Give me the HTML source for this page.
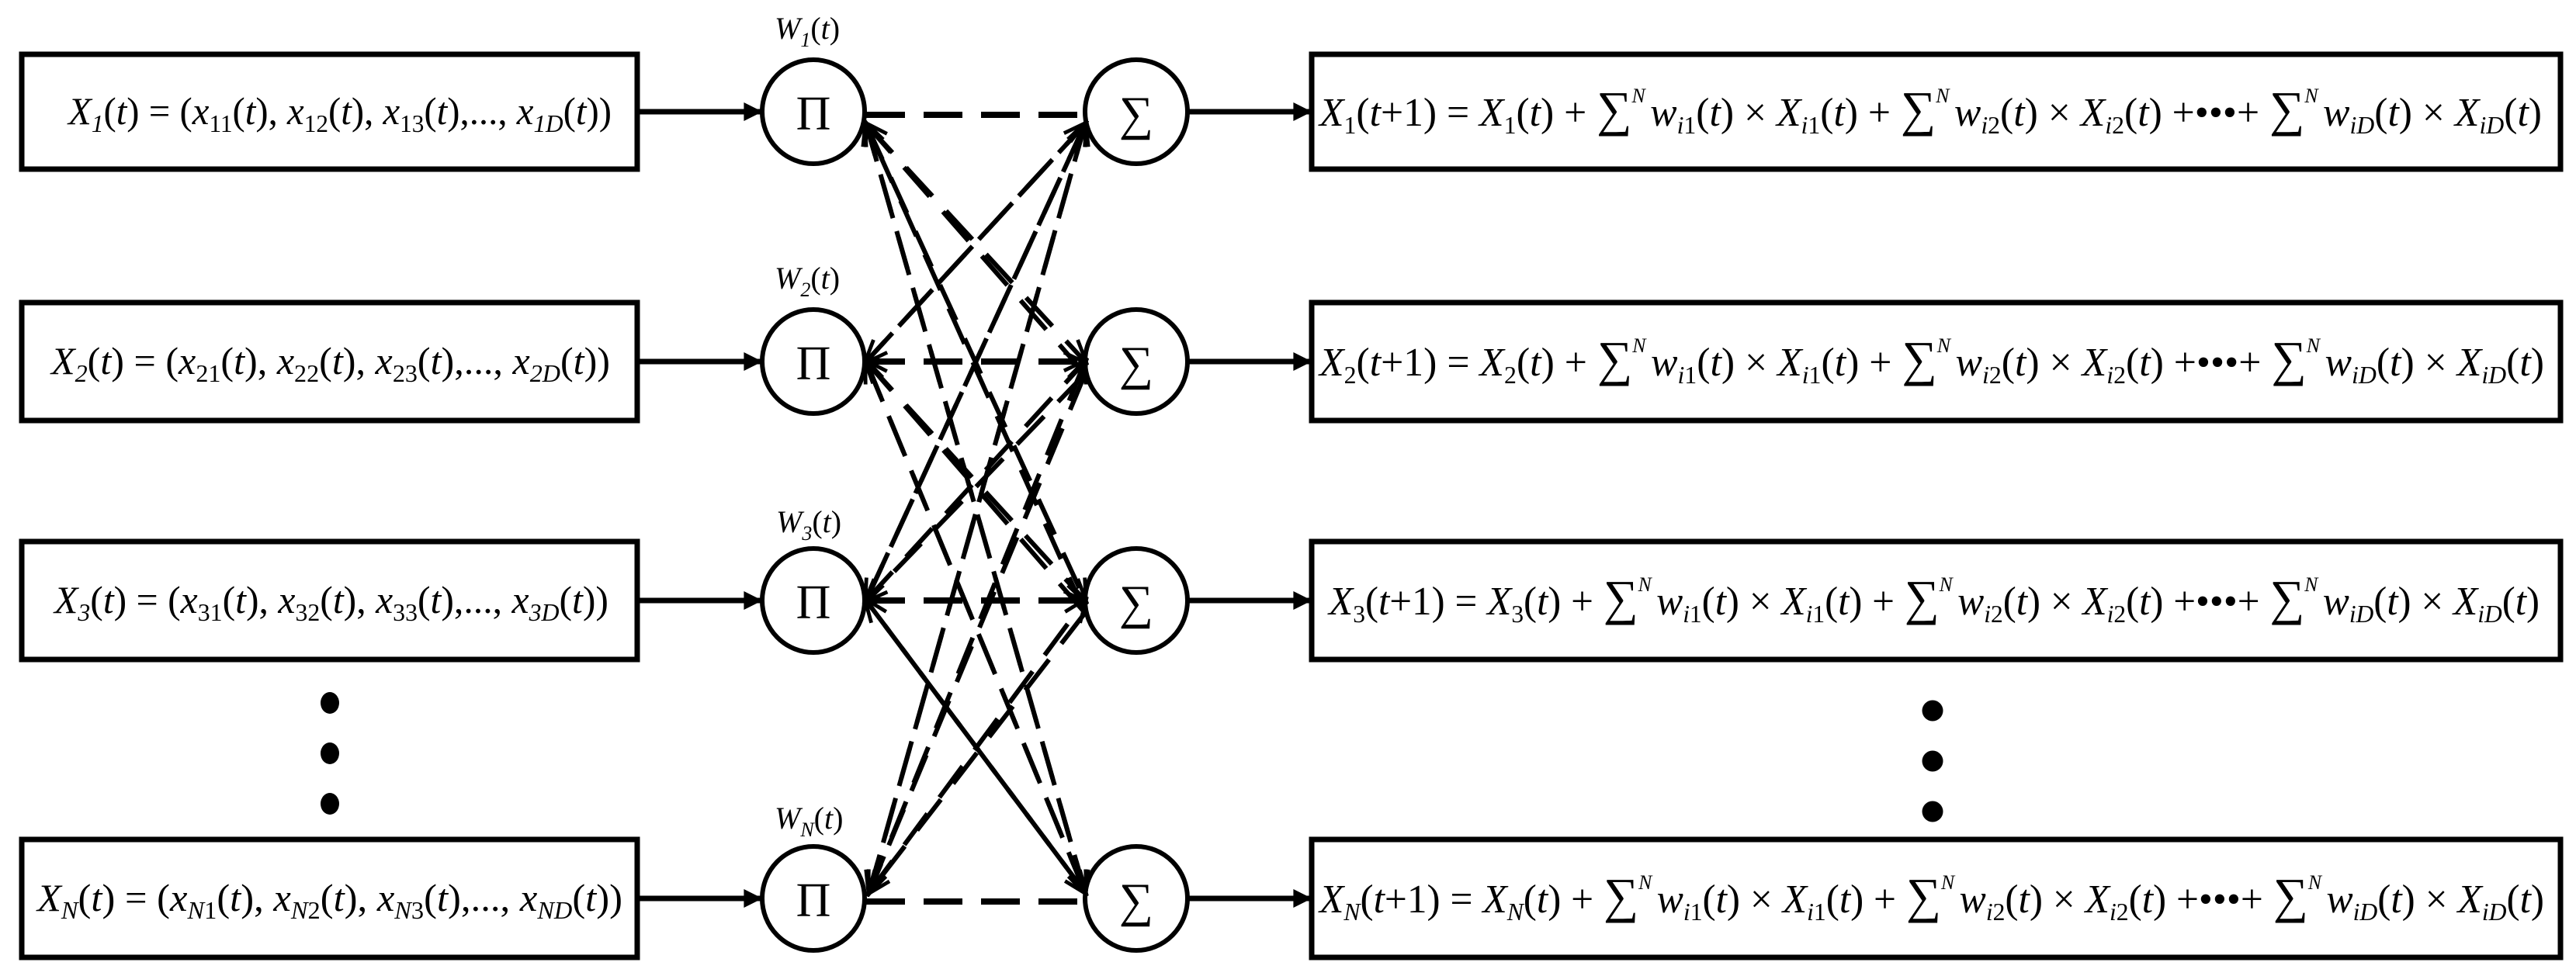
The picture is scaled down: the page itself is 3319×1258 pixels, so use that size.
<!DOCTYPE html>
<html><head><meta charset="utf-8"><style>
html,body{margin:0;padding:0;background:#fff;}
svg{display:block;}
text{font-family:"Liberation Serif",serif;fill:#000;}
.it{font-style:italic;}
</style></head><body>
<svg width="3319" height="1258" viewBox="0 0 3319 1258" xmlns="http://www.w3.org/2000/svg">
<defs>
<marker id="ah" viewBox="0 0 10 10" refX="9" refY="5" markerWidth="6" markerHeight="6" orient="auto" markerUnits="userSpaceOnUse">
<path d="M0,0 L10,5 L0,10 z" fill="#000"/>
</marker>
<marker id="ah2" viewBox="0 0 10 10" refX="9" refY="5" markerWidth="28" markerHeight="24" orient="auto" markerUnits="userSpaceOnUse">
<path d="M0,0 L10,5 L0,10 z" fill="#000"/>
</marker>
<marker id="ad" viewBox="0 0 10 10" refX="9" refY="5" markerWidth="36" markerHeight="30" orient="auto" markerUnits="userSpaceOnUse">
<path d="M0,1 L10,5 L0,9" fill="none" stroke="#000" stroke-width="1.6"/>
</marker>
</defs>
<g fill="none" stroke="#000" stroke-width="7">
<rect x="28" y="70" width="793" height="148"/>
<rect x="28" y="390" width="793" height="152"/>
<rect x="28" y="698" width="793" height="152"/>
<rect x="28" y="1082" width="793" height="152"/>
<rect x="1690" y="70" width="1609" height="148"/>
<rect x="1690" y="390" width="1609" height="152"/>
<rect x="1690" y="698" width="1609" height="152"/>
<rect x="1690" y="1082" width="1609" height="152"/>
</g>
<g fill="none" stroke="#000" stroke-width="6">
<ellipse cx="1048" cy="144" rx="66" ry="67"/>
<ellipse cx="1048" cy="466" rx="66" ry="67"/>
<ellipse cx="1048" cy="774" rx="66" ry="67"/>
<ellipse cx="1048" cy="1158" rx="66" ry="67"/>
<ellipse cx="1464" cy="144" rx="66" ry="67"/>
<ellipse cx="1464" cy="466" rx="66" ry="67"/>
<ellipse cx="1464" cy="774" rx="66" ry="67"/>
<ellipse cx="1464" cy="1158" rx="66" ry="67"/>
</g>
<!-- solid arrows -->
<g stroke="#000" stroke-width="7" marker-end="url(#ah2)">
<line x1="824" y1="144" x2="980" y2="144"/>
<line x1="824" y1="466" x2="980" y2="466"/>
<line x1="824" y1="774" x2="980" y2="774"/>
<line x1="824" y1="1158" x2="980" y2="1158"/>
<line x1="1531" y1="144" x2="1688" y2="144"/>
<line x1="1531" y1="466" x2="1688" y2="466"/>
<line x1="1531" y1="774" x2="1688" y2="774"/>
<line x1="1531" y1="1158" x2="1688" y2="1158"/>
</g>
<!-- dashed connections -->
<g stroke="#000" stroke-width="8" stroke-dasharray="50,24" fill="none">
<line x1="1116" y1="148" x2="1398" y2="148"/>
<line x1="1116" y1="466" x2="1398" y2="466"/>
<line x1="1116" y1="774" x2="1398" y2="774"/>
<line x1="1116" y1="1162" x2="1398" y2="1162"/>
</g>
<g stroke="#000" stroke-width="6" stroke-dasharray="50,26" fill="none">
<line x1="1398" y1="160" x2="1116" y2="466" marker-end="url(#ad)"/>
<line x1="1398" y1="160" x2="1116" y2="774" marker-end="url(#ad)"/>
<line x1="1398" y1="160" x2="1120" y2="1150" marker-end="url(#ad)"/>
<line x1="1398" y1="482" x2="1116" y2="160" marker-end="url(#ad)"/>
<line x1="1398" y1="482" x2="1116" y2="774" marker-end="url(#ad)"/>
<line x1="1398" y1="482" x2="1120" y2="1150" marker-end="url(#ad)"/>
<line x1="1398" y1="790" x2="1116" y2="160" marker-end="url(#ad)"/>
<line x1="1398" y1="790" x2="1116" y2="466" marker-end="url(#ad)"/>
<line x1="1398" y1="790" x2="1120" y2="1150" marker-end="url(#ad)"/>
<line x1="1398" y1="1150" x2="1116" y2="160" marker-end="url(#ad)"/>
<line x1="1398" y1="1150" x2="1116" y2="466" marker-end="url(#ad)"/>
<line x1="1398" y1="1150" x2="1116" y2="774" marker-end="url(#ad)"/>
<line x1="1116" y1="160" x2="1398" y2="466" marker-end="url(#ad)"/>
<line x1="1116" y1="160" x2="1398" y2="774" marker-end="url(#ad)"/>
<line x1="1116" y1="160" x2="1398" y2="1150" marker-end="url(#ad)"/>
<line x1="1116" y1="466" x2="1398" y2="160" marker-end="url(#ad)"/>
<line x1="1116" y1="466" x2="1398" y2="774" marker-end="url(#ad)"/>
<line x1="1116" y1="466" x2="1398" y2="1150" marker-end="url(#ad)"/>
<line x1="1116" y1="774" x2="1398" y2="160" marker-end="url(#ad)"/>
<line x1="1116" y1="774" x2="1398" y2="466" marker-end="url(#ad)"/>
<line x1="1116" y1="774" x2="1398" y2="1150" marker-end="url(#ad)"/>
<line x1="1120" y1="1150" x2="1398" y2="160" marker-end="url(#ad)"/>
<line x1="1120" y1="1150" x2="1398" y2="466" marker-end="url(#ad)"/>
<line x1="1120" y1="1150" x2="1398" y2="774" marker-end="url(#ad)"/>
</g>
<!-- node symbols -->
<g font-size="62" text-anchor="middle">
<text x="1048" y="167">Π</text><text x="1048" y="489">Π</text><text x="1048" y="797">Π</text><text x="1048" y="1181">Π</text>
<text x="1464" y="167">∑</text><text x="1464" y="489">∑</text><text x="1464" y="797">∑</text><text x="1464" y="1181">∑</text>
</g>
<!-- W labels -->
<g font-size="40" class="it">
<text x="998" y="50">W<tspan font-size="26" dy="10">1</tspan><tspan dy="-10" font-style="normal">(</tspan>t<tspan font-style="normal">)</tspan></text>
<text x="998" y="372">W<tspan font-size="26" dy="10">2</tspan><tspan dy="-10" font-style="normal">(</tspan>t<tspan font-style="normal">)</tspan></text>
<text x="1000" y="686">W<tspan font-size="26" dy="10">3</tspan><tspan dy="-10" font-style="normal">(</tspan>t<tspan font-style="normal">)</tspan></text>
<text x="998" y="1068">W<tspan font-size="26" dy="10">N</tspan><tspan dy="-10" font-style="normal">(</tspan>t<tspan font-style="normal">)</tspan></text>
</g>
<!-- dots -->
<g fill="#000">
<ellipse cx="425" cy="906" rx="12" ry="14"/><ellipse cx="425" cy="971" rx="12" ry="14"/><ellipse cx="425" cy="1036" rx="12" ry="14"/>
<circle cx="2490" cy="916" r="13.5"/><circle cx="2490" cy="981" r="13.5"/><circle cx="2490" cy="1046" r="13.5"/>
</g>
<!-- left formulas -->
<g font-size="50" class="it">
<text x="88" y="160" textLength="700" lengthAdjust="spacingAndGlyphs">X<tspan font-size="32" dy="10">1</tspan><tspan dy="-10" font-style="normal">(</tspan>t<tspan font-style="normal">) = (</tspan>x<tspan font-size="32" dy="10" font-style="normal">11</tspan><tspan dy="-10" font-style="normal">(</tspan>t<tspan font-style="normal">), </tspan>x<tspan font-size="32" dy="10" font-style="normal">12</tspan><tspan dy="-10" font-style="normal">(</tspan>t<tspan font-style="normal">), </tspan>x<tspan font-size="32" dy="10" font-style="normal">13</tspan><tspan dy="-10" font-style="normal">(</tspan>t<tspan font-style="normal">),..., </tspan>x<tspan font-size="32" dy="10">1D</tspan><tspan dy="-10" font-style="normal">(</tspan>t<tspan font-style="normal">))</tspan></text>
<text x="66" y="482" textLength="720" lengthAdjust="spacingAndGlyphs">X<tspan font-size="32" dy="10">2</tspan><tspan dy="-10" font-style="normal">(</tspan>t<tspan font-style="normal">) = (</tspan>x<tspan font-size="32" dy="10" font-style="normal">21</tspan><tspan dy="-10" font-style="normal">(</tspan>t<tspan font-style="normal">), </tspan>x<tspan font-size="32" dy="10" font-style="normal">22</tspan><tspan dy="-10" font-style="normal">(</tspan>t<tspan font-style="normal">), </tspan>x<tspan font-size="32" dy="10" font-style="normal">23</tspan><tspan dy="-10" font-style="normal">(</tspan>t<tspan font-style="normal">),..., </tspan>x<tspan font-size="32" dy="10">2D</tspan><tspan dy="-10" font-style="normal">(</tspan>t<tspan font-style="normal">))</tspan></text>
<text x="70" y="790" textLength="714" lengthAdjust="spacingAndGlyphs">X<tspan font-size="32" dy="10">3</tspan><tspan dy="-10" font-style="normal">(</tspan>t<tspan font-style="normal">) = (</tspan>x<tspan font-size="32" dy="10" font-style="normal">31</tspan><tspan dy="-10" font-style="normal">(</tspan>t<tspan font-style="normal">), </tspan>x<tspan font-size="32" dy="10" font-style="normal">32</tspan><tspan dy="-10" font-style="normal">(</tspan>t<tspan font-style="normal">), </tspan>x<tspan font-size="32" dy="10" font-style="normal">33</tspan><tspan dy="-10" font-style="normal">(</tspan>t<tspan font-style="normal">),..., </tspan>x<tspan font-size="32" dy="10">3D</tspan><tspan dy="-10" font-style="normal">(</tspan>t<tspan font-style="normal">))</tspan></text>
<text x="48" y="1174" textLength="754" lengthAdjust="spacingAndGlyphs">X<tspan font-size="32" dy="10">N</tspan><tspan dy="-10" font-style="normal">(</tspan>t<tspan font-style="normal">) = (</tspan>x<tspan font-size="32" dy="10">N</tspan><tspan font-size="32" font-style="normal">1</tspan><tspan dy="-10" font-style="normal">(</tspan>t<tspan font-style="normal">), </tspan>x<tspan font-size="32" dy="10">N</tspan><tspan font-size="32" font-style="normal">2</tspan><tspan dy="-10" font-style="normal">(</tspan>t<tspan font-style="normal">), </tspan>x<tspan font-size="32" dy="10">N</tspan><tspan font-size="32" font-style="normal">3</tspan><tspan dy="-10" font-style="normal">(</tspan>t<tspan font-style="normal">),..., </tspan>x<tspan font-size="32" dy="10">ND</tspan><tspan dy="-10" font-style="normal">(</tspan>t<tspan font-style="normal">))</tspan></text>
</g>
<!-- right formulas -->
<g font-size="52" class="it">
<text x="1700" y="162" textLength="1575" lengthAdjust="spacingAndGlyphs">X<tspan font-size="32" dy="10" font-style="normal">1</tspan><tspan dy="-10" font-style="normal">(</tspan>t<tspan font-style="normal">+1) = </tspan>X<tspan font-size="32" dy="10" font-style="normal">1</tspan><tspan dy="-10" font-style="normal">(</tspan>t<tspan font-style="normal">) + </tspan><tspan font-style="normal" font-size="64">∑</tspan><tspan font-size="26" dy="-30">N</tspan><tspan font-size="26" dy="30"> </tspan>w<tspan font-size="32" dy="10">i</tspan><tspan font-size="32" font-style="normal">1</tspan><tspan dy="-10" font-style="normal">(</tspan>t<tspan font-style="normal">) × </tspan>X<tspan font-size="32" dy="10">i</tspan><tspan font-size="32" font-style="normal">1</tspan><tspan dy="-10" font-style="normal">(</tspan>t<tspan font-style="normal">) + </tspan><tspan font-style="normal" font-size="64">∑</tspan><tspan font-size="26" dy="-30">N</tspan><tspan font-size="26" dy="30"> </tspan>w<tspan font-size="32" dy="10">i</tspan><tspan font-size="32" font-style="normal">2</tspan><tspan dy="-10" font-style="normal">(</tspan>t<tspan font-style="normal">) × </tspan>X<tspan font-size="32" dy="10">i</tspan><tspan font-size="32" font-style="normal">2</tspan><tspan dy="-10" font-style="normal">(</tspan>t<tspan font-style="normal">) +•••+ </tspan><tspan font-style="normal" font-size="64">∑</tspan><tspan font-size="26" dy="-30">N</tspan><tspan font-size="26" dy="30"> </tspan>w<tspan font-size="32" dy="10">iD</tspan><tspan dy="-10" font-style="normal">(</tspan>t<tspan font-style="normal">) × </tspan>X<tspan font-size="32" dy="10">iD</tspan><tspan dy="-10" font-style="normal">(</tspan>t<tspan font-style="normal">)</tspan></text>
<text x="1700" y="484" textLength="1578" lengthAdjust="spacingAndGlyphs">X<tspan font-size="32" dy="10" font-style="normal">2</tspan><tspan dy="-10" font-style="normal">(</tspan>t<tspan font-style="normal">+1) = </tspan>X<tspan font-size="32" dy="10" font-style="normal">2</tspan><tspan dy="-10" font-style="normal">(</tspan>t<tspan font-style="normal">) + </tspan><tspan font-style="normal" font-size="64">∑</tspan><tspan font-size="26" dy="-30">N</tspan><tspan font-size="26" dy="30"> </tspan>w<tspan font-size="32" dy="10">i</tspan><tspan font-size="32" font-style="normal">1</tspan><tspan dy="-10" font-style="normal">(</tspan>t<tspan font-style="normal">) × </tspan>X<tspan font-size="32" dy="10">i</tspan><tspan font-size="32" font-style="normal">1</tspan><tspan dy="-10" font-style="normal">(</tspan>t<tspan font-style="normal">) + </tspan><tspan font-style="normal" font-size="64">∑</tspan><tspan font-size="26" dy="-30">N</tspan><tspan font-size="26" dy="30"> </tspan>w<tspan font-size="32" dy="10">i</tspan><tspan font-size="32" font-style="normal">2</tspan><tspan dy="-10" font-style="normal">(</tspan>t<tspan font-style="normal">) × </tspan>X<tspan font-size="32" dy="10">i</tspan><tspan font-size="32" font-style="normal">2</tspan><tspan dy="-10" font-style="normal">(</tspan>t<tspan font-style="normal">) +•••+ </tspan><tspan font-style="normal" font-size="64">∑</tspan><tspan font-size="26" dy="-30">N</tspan><tspan font-size="26" dy="30"> </tspan>w<tspan font-size="32" dy="10">iD</tspan><tspan dy="-10" font-style="normal">(</tspan>t<tspan font-style="normal">) × </tspan>X<tspan font-size="32" dy="10">iD</tspan><tspan dy="-10" font-style="normal">(</tspan>t<tspan font-style="normal">)</tspan></text>
<text x="1712" y="792" textLength="1560" lengthAdjust="spacingAndGlyphs">X<tspan font-size="32" dy="10" font-style="normal">3</tspan><tspan dy="-10" font-style="normal">(</tspan>t<tspan font-style="normal">+1) = </tspan>X<tspan font-size="32" dy="10" font-style="normal">3</tspan><tspan dy="-10" font-style="normal">(</tspan>t<tspan font-style="normal">) + </tspan><tspan font-style="normal" font-size="64">∑</tspan><tspan font-size="26" dy="-30">N</tspan><tspan font-size="26" dy="30"> </tspan>w<tspan font-size="32" dy="10">i</tspan><tspan font-size="32" font-style="normal">1</tspan><tspan dy="-10" font-style="normal">(</tspan>t<tspan font-style="normal">) × </tspan>X<tspan font-size="32" dy="10">i</tspan><tspan font-size="32" font-style="normal">1</tspan><tspan dy="-10" font-style="normal">(</tspan>t<tspan font-style="normal">) + </tspan><tspan font-style="normal" font-size="64">∑</tspan><tspan font-size="26" dy="-30">N</tspan><tspan font-size="26" dy="30"> </tspan>w<tspan font-size="32" dy="10">i</tspan><tspan font-size="32" font-style="normal">2</tspan><tspan dy="-10" font-style="normal">(</tspan>t<tspan font-style="normal">) × </tspan>X<tspan font-size="32" dy="10">i</tspan><tspan font-size="32" font-style="normal">2</tspan><tspan dy="-10" font-style="normal">(</tspan>t<tspan font-style="normal">) +•••+ </tspan><tspan font-style="normal" font-size="64">∑</tspan><tspan font-size="26" dy="-30">N</tspan><tspan font-size="26" dy="30"> </tspan>w<tspan font-size="32" dy="10">iD</tspan><tspan dy="-10" font-style="normal">(</tspan>t<tspan font-style="normal">) × </tspan>X<tspan font-size="32" dy="10">iD</tspan><tspan dy="-10" font-style="normal">(</tspan>t<tspan font-style="normal">)</tspan></text>
<text x="1700" y="1176" textLength="1578" lengthAdjust="spacingAndGlyphs">X<tspan font-size="32" dy="10">N</tspan><tspan dy="-10" font-style="normal">(</tspan>t<tspan font-style="normal">+1) = </tspan>X<tspan font-size="32" dy="10">N</tspan><tspan dy="-10" font-style="normal">(</tspan>t<tspan font-style="normal">) + </tspan><tspan font-style="normal" font-size="64">∑</tspan><tspan font-size="26" dy="-30">N</tspan><tspan font-size="26" dy="30"> </tspan>w<tspan font-size="32" dy="10">i</tspan><tspan font-size="32" font-style="normal">1</tspan><tspan dy="-10" font-style="normal">(</tspan>t<tspan font-style="normal">) × </tspan>X<tspan font-size="32" dy="10">i</tspan><tspan font-size="32" font-style="normal">1</tspan><tspan dy="-10" font-style="normal">(</tspan>t<tspan font-style="normal">) + </tspan><tspan font-style="normal" font-size="64">∑</tspan><tspan font-size="26" dy="-30">N</tspan><tspan font-size="26" dy="30"> </tspan>w<tspan font-size="32" dy="10">i</tspan><tspan font-size="32" font-style="normal">2</tspan><tspan dy="-10" font-style="normal">(</tspan>t<tspan font-style="normal">) × </tspan>X<tspan font-size="32" dy="10">i</tspan><tspan font-size="32" font-style="normal">2</tspan><tspan dy="-10" font-style="normal">(</tspan>t<tspan font-style="normal">) +•••+ </tspan><tspan font-style="normal" font-size="64">∑</tspan><tspan font-size="26" dy="-30">N</tspan><tspan font-size="26" dy="30"> </tspan>w<tspan font-size="32" dy="10">iD</tspan><tspan dy="-10" font-style="normal">(</tspan>t<tspan font-style="normal">) × </tspan>X<tspan font-size="32" dy="10">iD</tspan><tspan dy="-10" font-style="normal">(</tspan>t<tspan font-style="normal">)</tspan></text>
</g>
</svg>
</body></html>
